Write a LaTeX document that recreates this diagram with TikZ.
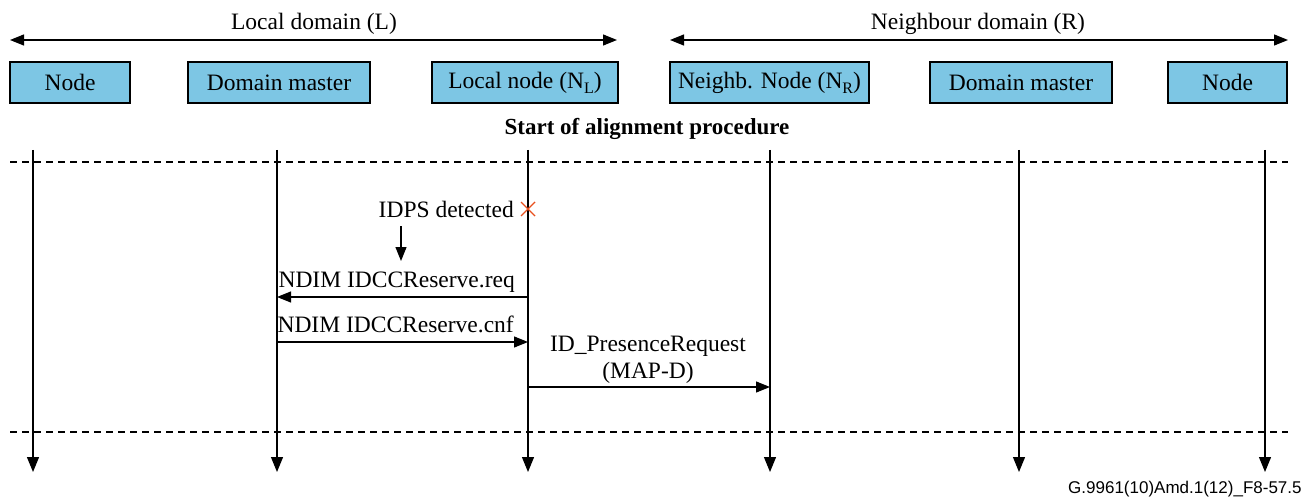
\documentclass[tikz,border=0pt]{standalone}
\usepackage{fontspec}
\setmainfont{Liberation Serif}
\newfontfamily\footfont{Liberation Sans}
\usetikzlibrary{arrows.meta,calc}
\definecolor{boxblue}{RGB}{125,198,228}
\definecolor{xred}{RGB}{232,80,30}
\newcommand{\lowsub}[1]{\raisebox{-5pt}{\fontsize{16}{18}\selectfont #1}}
\tikzset{
  ent/.style={draw, line width=1.2pt, fill=boxblue, minimum height=41pt, inner sep=0pt, font=\fontsize{23.5}{27}\selectfont},
  life/.style={line width=1.2pt, -{Triangle[length=15pt,width=12pt]}},
  msg/.style={line width=1.2pt, -{Triangle[length=14pt,width=11pt]}},
  dom/.style={line width=1.2pt, {Triangle[length=14pt,width=11pt]}-{Triangle[length=14pt,width=11pt]}},
  sep/.style={line width=1.1pt, dash pattern=on 7pt off 5pt},
  lbl/.style={font=\fontsize{23.5}{27}\selectfont, inner sep=0pt},
}
\begin{document}
\begin{tikzpicture}[x=1pt,y=-1pt]
\useasboundingbox (0,0) rectangle (1306,497);
% domains
\coordinate (dl1) at (10,40); \coordinate (dl2) at (617,40);
\coordinate (dr1) at (670,40); \coordinate (dr2) at (1288,40);
\draw[dom] (dl1) -- (dl2);
\draw[dom] (dr1) -- (dr2);
\node[lbl] (locd) at (314,24) {Local domain (L)};
\node[lbl] (neid) at (978,24) {Neighbour domain (R)};
% entities
\node[ent, minimum width=120pt] (e1) at (70,82.5) {Node};
\node[ent, minimum width=182pt] (e2) at (279,82.5) {Domain master};
\node[ent, minimum width=186pt] (e3) at (525,82.5) {Local node (N\lowsub{L})};
\node[ent, minimum width=199pt] (e4) at (769.5,82.5) {Neighb. Node (N\lowsub{R})};
\node[ent, minimum width=182pt] (e5) at (1021,82.5) {Domain master};
\node[ent, minimum width=119pt] (e6) at (1227.5,82.5) {Node};
\node[lbl, font=\fontsize{23}{27}\selectfont\bfseries] (start) at (647,129) {Start of alignment procedure};
% separators
\coordinate (s1a) at (10,162); \coordinate (s1b) at (1288,162);
\coordinate (s2a) at (10,432); \coordinate (s2b) at (1288,432);
\draw[sep] (s1a) -- (s1b);
\draw[sep] (s2a) -- (s2b);
% lifelines
\foreach \i/\x in {1/33,2/277,3/528,4/770,5/1019,6/1265}{
  \coordinate (t\i) at (\x,150);
  \coordinate (b\i) at (\x,472);
  \draw[life] (t\i) -- (b\i);
}
% IDPS
\node[lbl, anchor=east] (idps) at (514,209) {IDPS detected};
\coordinate (xc) at (528,209);
\draw[xred, line width=1.4pt] ($(xc)+(-7,-7)$) -- ($(xc)+(7,7)$) ($(xc)+(-7,7)$) -- ($(xc)+(7,-7)$);
\coordinate (sa1) at (401,226); \coordinate (sa2) at (401,261);
\draw[msg] (sa1) -- (sa2);
% messages
\coordinate (m1s) at (528,297); \coordinate (m1e) at (277,297);
\draw[msg] (m1s) -- (m1e);
\node[lbl, anchor=base east] (req) at (515,287) {NDIM IDCCReserve.req};
\coordinate (m2s) at (277,342); \coordinate (m2e) at (528,342);
\draw[msg] (m2s) -- (m2e);
\node[lbl, anchor=base east] (cnf) at (514,332) {NDIM IDCCReserve.cnf};
\coordinate (m3s) at (528,387); \coordinate (m3e) at (770,387);
\draw[msg] (m3s) -- (m3e);
\node[lbl, align=center] (pres) at (648,360) {ID\_PresenceRequest\\(MAP-D)};
\node[font=\footfont\fontsize{17}{19}\selectfont, anchor=base west, inner sep=0pt] (foot) at (1068,493) {G.9961(10)Amd.1(12)\_F8-57.5};
\end{tikzpicture}
\end{document}
